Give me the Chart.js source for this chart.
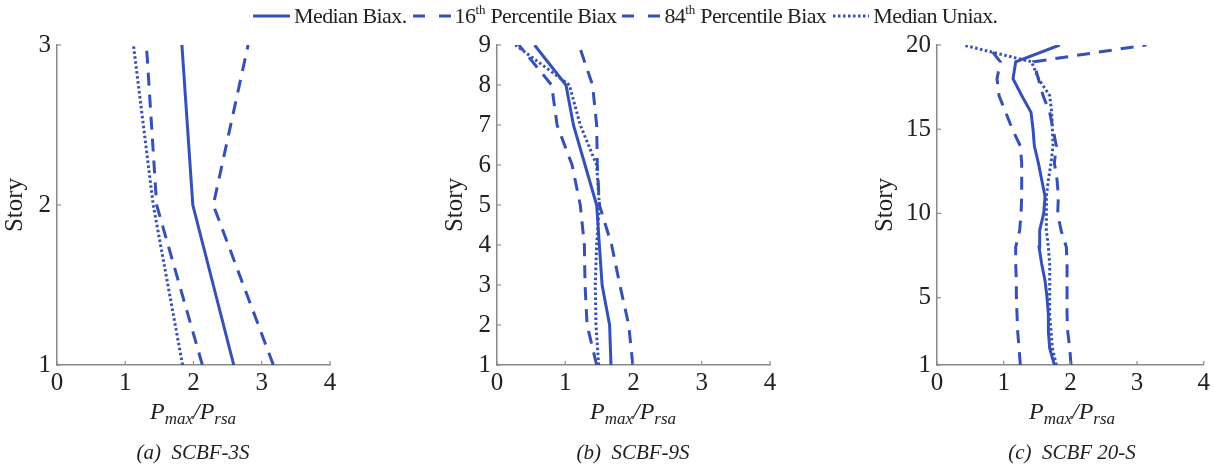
<!DOCTYPE html>
<html>
<head>
<meta charset="utf-8">
<script src="https://cdn.jsdelivr.net/npm/chart.js@4.4.0/dist/chart.umd.min.js"></script>
<style>
  body { margin: 0; background: #fff; font-family: 'Times New Roman', 'Liberation Serif', 'DejaVu Serif', serif; }
  #wrap { position: relative; width: 1213px; height: 466px; overflow: hidden; }
  canvas { position: absolute; top: 0; }
  .legend { position: absolute; top: 3px; left: 253px; font-size: 22px; letter-spacing: -0.6px; color: #222; white-space: nowrap; display: flex; align-items: center; }
  .legend svg { margin: 0 4px 0 0; }
  .legend span { margin-right: 6px; }
  .legend sup { font-size: 13px; vertical-align: 9px; line-height: 0; letter-spacing: 0; }
  .xt { position: absolute; top: 398px; font-style: italic; font-size: 24px; color: #222; transform: translateX(-50%); white-space: nowrap; }
  .xt sub { font-size: 17px; vertical-align: -5px; line-height: 0; }
  .cap { position: absolute; top: 440px; font-style: italic; font-size: 21px; color: #222; transform: translateX(-50%); white-space: nowrap; }
</style>
</head>
<body>
<div id="wrap">
  <canvas id="c1" width="345" height="400" style="left:0px"></canvas>
  <canvas id="c2" width="345" height="400" style="left:440px"></canvas>
  <canvas id="c3" width="343" height="400" style="left:870px"></canvas>

  <div class="legend">
    <svg width="37" height="10"><line x1="0" y1="5" x2="37" y2="5" stroke="#3550b8" stroke-width="3"/></svg><span>Median Biax.</span>
    <svg width="38" height="10"><line x1="0" y1="5" x2="38" y2="5" stroke="#3550b8" stroke-width="3" stroke-dasharray="12 14"/></svg><span>16<sup>th</sup> Percentile Biax</span>
    <svg width="38" height="10"><line x1="0" y1="5" x2="38" y2="5" stroke="#3550b8" stroke-width="3" stroke-dasharray="12 14"/></svg><span>84<sup>th</sup> Percentile Biax</span>
    <svg width="37" height="10"><line x1="1" y1="5" x2="37" y2="5" stroke="#3550b8" stroke-width="3" stroke-dasharray="2.5 2.5"/></svg><span>Median Uniax.</span>
  </div>

  <div class="xt" style="left:193px">P<sub>max</sub>/P<sub>rsa</sub></div>
  <div class="xt" style="left:633px">P<sub>max</sub>/P<sub>rsa</sub></div>
  <div class="xt" style="left:1072px">P<sub>max</sub>/P<sub>rsa</sub></div>
  <div class="cap" style="left:193px">(a)&nbsp; SCBF-3S</div>
  <div class="cap" style="left:633px">(b)&nbsp; SCBF-9S</div>
  <div class="cap" style="left:1072px">(c)&nbsp; SCBF 20-S</div>
</div>

<script>
// stories for each building
const stories3 = [1, 2, 3];
const stories9 = [1, 2, 3, 4, 5, 6, 7, 8, 9];
const stories20 = [1, 2, 3, 4, 5, 6, 7, 8, 9, 10, 11, 12, 13, 14, 15, 16, 17, 18, 19, 20];

// SCBF-3S  (Pmax/Prsa per story)
const med3 = [2.59, 1.99, 1.83];
const p16_3 = [2.13, 1.46, 1.31];
const p84_3 = [3.17, 2.29, 2.80];
const uni3 = [1.84, 1.41, 1.12];

// SCBF-9S
const med9 = [1.67, 1.65, 1.54, 1.50, 1.46, 1.29, 1.12, 1.01, 0.55];
const p16_9 = [1.46, 1.32, 1.29, 1.28, 1.22, 1.10, 0.88, 0.80, 0.32];
const p84_9 = [1.99, 1.93, 1.80, 1.68, 1.50, 1.47, 1.46, 1.40, 1.20];
const uni9 = [1.49, 1.45, 1.44, 1.46, 1.50, 1.46, 1.22, 1.06, 0.27];

// SCBF 20-S
const med20 = [1.76, 1.69, 1.67, 1.67, 1.65, 1.62, 1.57, 1.53, 1.54, 1.60,
               1.62, 1.57, 1.52, 1.46, 1.44, 1.41, 1.27, 1.14, 1.18, 1.84];
const p16_20 = [1.25, 1.23, 1.21, 1.20, 1.19, 1.19, 1.18, 1.18, 1.24, 1.26,
                1.27, 1.27, 1.27, 1.25, 1.13, 1.03, 0.93, 0.90, 0.95, 0.75];
const p84_20 = [2.01, 1.99, 1.96, 1.95, 1.95, 1.95, 1.95, 1.94, 1.86, 1.81,
                1.82, 1.80, 1.76, 1.79, 1.74, 1.69, 1.59, 1.52, 1.45, 3.14];
const uni20 = [1.79, 1.73, 1.71, 1.69, 1.69, 1.69, 1.69, 1.67, 1.64, 1.64,
               1.64, 1.67, 1.71, 1.74, 1.73, 1.72, 1.69, 1.52, 1.42, 0.39];

const xTicks = [0, 1, 2, 3, 4];
const yTicks3 = [1, 2, 3];
const yTicks9 = [1, 2, 3, 4, 5, 6, 7, 8, 9];
const yTicks20 = [1, 5, 10, 15, 20];

const BLUE = '#3550b8';
const AXIS = '#8a8a8a';
const SERIF = "'Times New Roman', 'Liberation Serif', 'DejaVu Serif', serif";

function pts(xs, ys) {
  return xs.map((v, i) => ({ x: v, y: ys[i] }));
}

function ds(data, dash) {
  return {
    data: data,
    showLine: true,
    borderColor: BLUE,
    backgroundColor: BLUE,
    borderWidth: 3,
    borderDash: dash,
    pointRadius: 0,
    tension: 0,
    fill: false,
  };
}

// small inward tick marks, matlab style
const innerTicks = {
  id: 'innerTicks',
  afterDraw(chart) {
    const ctx = chart.ctx;
    const a = chart.chartArea;
    ctx.save();
    ctx.strokeStyle = AXIS;
    ctx.lineWidth = 1.2;
    chart.scales.x.ticks.forEach((t) => {
      const px = chart.scales.x.getPixelForValue(t.value);
      ctx.beginPath();
      ctx.moveTo(px, a.bottom);
      ctx.lineTo(px, a.bottom - 4);
      ctx.stroke();
    });
    chart.scales.y.ticks.forEach((t) => {
      const py = chart.scales.y.getPixelForValue(t.value);
      ctx.beginPath();
      ctx.moveTo(a.left, py);
      ctx.lineTo(a.left + 4, py);
      ctx.stroke();
    });
    ctx.restore();
  },
};

function makeChart(id, yW, padRight, yMin, yMax, yTicks, sets) {
  const el = document.getElementById(id);
  return new Chart(el, {
    type: 'scatter',
    data: {
      datasets: [
        ds(sets[0], []),
        ds(sets[1], [13, 9]),
        ds(sets[2], [13, 9]),
        ds(sets[3], [2.5, 2.5]),
      ],
    },
    options: {
      responsive: false,
      animation: false,
      layout: { padding: { top: 45, right: padRight, left: 0, bottom: 0 } },
      plugins: { legend: { display: false }, tooltip: { enabled: false } },
      scales: {
        x: {
          type: 'linear',
          min: 0,
          max: 4,
          afterBuildTicks: (s) => { s.ticks = xTicks.map((v) => ({ value: v })); },
          afterFit: (s) => { s.height = 35; },
          grid: { display: false, drawTicks: false },
          border: { display: true, color: AXIS, width: 1.5 },
          ticks: { color: '#222', font: { family: SERIF, size: 25 }, padding: 3, maxRotation: 0 },
        },
        y: {
          type: 'linear',
          min: yMin,
          max: yMax,
          afterBuildTicks: (s) => { s.ticks = yTicks.map((v) => ({ value: v })); },
          afterFit: (s) => { s.width = yW; },
          grid: { display: false, drawTicks: false },
          border: { display: true, color: AXIS, width: 1.5 },
          ticks: { color: '#222', font: { family: SERIF, size: 25 }, padding: 6 },
          title: { display: true, text: 'Story', color: '#222', font: { family: SERIF, size: 25 }, padding: 0 },
        },
      },
    },
    plugins: [innerTicks],
  });
}

makeChart('c1', 57, 15, 1, 3, yTicks3,
  [pts(med3, stories3), pts(p16_3, stories3), pts(p84_3, stories3), pts(uni3, stories3)]);
makeChart('c2', 57, 15, 1, 9, yTicks9,
  [pts(med9, stories9), pts(p16_9, stories9), pts(p84_9, stories9), pts(uni9, stories9)]);
makeChart('c3', 67, 5, 1, 20, yTicks20,
  [pts(med20, stories20), pts(p16_20, stories20), pts(p84_20, stories20), pts(uni20, stories20)]);
</script>
</body>
</html>
